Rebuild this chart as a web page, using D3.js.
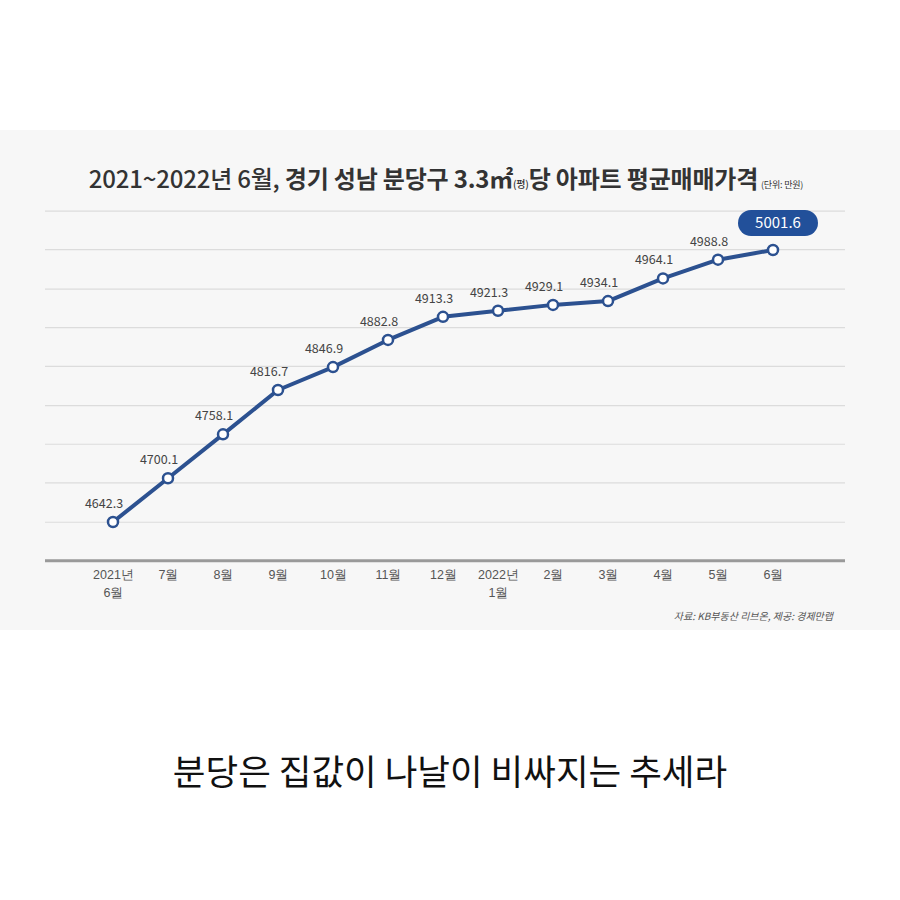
<!DOCTYPE html>
<html>
<head>
<meta charset="utf-8">
<script src="https://cdn.jsdelivr.net/npm/d3@7"></script>
<style>
  body { margin: 0; background: #fff; }
  svg { display: block; font-family: "Noto Sans CJK KR", "Noto Sans", sans-serif; }
</style>
</head>
<body>
<svg id="chart" width="900" height="900"></svg>
<script>
// months (two-line labels) and average price per 3.3m2 (만원)
var months = ["2021년|6월", "7월", "8월", "9월", "10월", "11월", "12월", "2022년|1월", "2월", "3월", "4월", "5월", "6월"];
var prices = [4642.3, 4700.1, 4758.1, 4816.7, 4846.9, 4882.8, 4913.3, 4921.3, 4929.1, 4934.1, 4964.1, 4988.8, 5001.6];
var gridValues = [4642, 4694, 4745, 4796, 4848, 4899, 4950, 5002, 5053];
var baseValue = 4591;

var dimensions = {
  width: 900,
  height: 900,
  margin: { top: 212, right: 55, bottom: 340, left: 45 },
};

var svg = d3.select("#chart");

// light panel behind the chart
svg.append("rect")
  .attr("x", 0).attr("y", 130)
  .attr("width", 900).attr("height", 500)
  .attr("fill", "#f7f7f7");

var data = months.map((m, i) => ({ month: m, price: prices[i] }));

var xScale = d3.scalePoint()
  .domain(months)
  .range([113, 773]);

var yScale = d3.scaleLinear()
  .domain([4642.3, 5001.6])
  .range([522, 250]);

// gridlines
svg.append("g")
  .selectAll("line")
  .data(gridValues)
  .enter()
  .append("line")
  .attr("x1", dimensions.margin.left)
  .attr("x2", dimensions.width - dimensions.margin.right)
  .attr("y1", (d) => yScale(d))
  .attr("y2", (d) => yScale(d))
  .attr("stroke", "#dcdcdc")
  .attr("stroke-width", 1.2);

// x axis
var xAxisgen = d3.axisBottom(xScale).tickSize(0).tickPadding(0).tickFormat("");
var xAxis = svg.append("g")
  .attr("transform", `translate(0,${yScale(baseValue)})`)
  .call(xAxisgen);
xAxis.select(".domain").remove();
xAxis.append("line")
  .attr("x1", dimensions.margin.left)
  .attr("x2", dimensions.width - dimensions.margin.right)
  .attr("stroke", "#9a9a9a")
  .attr("stroke-width", 3);

xAxis.selectAll(".tick").each(function (d) {
  var t = d3.select(this).select("text")
    .attr("fill", "#555")
    .attr("font-size", 12.5)
    .attr("text-anchor", "middle")
    .attr("dy", null)
    .attr("y", null);
  d.split("|").forEach(function (part, k) {
    t.append("tspan")
      .attr("x", 0)
      .attr("y", 18 + k * 18)
      .text(part);
  });
});

// line
var lineGen = d3.line()
  .x((d) => xScale(d.month))
  .y((d) => yScale(d.price));

svg.append("path")
  .datum(data)
  .attr("d", lineGen)
  .attr("fill", "none")
  .attr("stroke", "#2c5190")
  .attr("stroke-width", 4)
  .attr("stroke-linejoin", "round");

// value labels (all but last)
svg.append("g")
  .selectAll("text")
  .data(data.slice(0, -1))
  .enter()
  .append("text")
  .attr("x", (d) => xScale(d.month) - 9)
  .attr("y", (d) => yScale(d.price) - 14)
  .attr("text-anchor", "middle")
  .attr("font-size", 12.5)
  .attr("fill", "#444")
  .text((d) => d.price.toFixed(1));

// markers
svg.append("g")
  .selectAll("circle")
  .data(data)
  .enter()
  .append("circle")
  .attr("cx", (d) => xScale(d.month))
  .attr("cy", (d) => yScale(d.price))
  .attr("r", 5)
  .attr("fill", "#fff")
  .attr("stroke", "#2c5190")
  .attr("stroke-width", 2.5);

// highlighted last value
var last = data[data.length - 1];
var pill = svg.append("g")
  .attr("transform", `translate(${xScale(last.month) + 5},${yScale(last.price) - 27})`);
pill.append("rect")
  .attr("x", -40).attr("y", -13)
  .attr("width", 80).attr("height", 26)
  .attr("rx", 13)
  .attr("fill", "#22509a");
pill.append("text")
  .attr("text-anchor", "middle")
  .attr("dy", "0.36em")
  .attr("font-size", 15)
  .attr("fill", "#fff")
  .text(last.price.toFixed(1));

// title
var title = svg.append("text")
  .attr("x", 446)
  .attr("y", 188)
  .attr("text-anchor", "middle")
  .attr("font-size", 24)
  .attr("fill", "#333")
  .attr("letter-spacing", -0.2);
title.append("tspan").attr("font-weight", 500).text("2021~2022년 6월, ");
title.append("tspan").attr("font-weight", 700).text("경기 성남 분당구 3.3㎡");
title.append("tspan").attr("font-size", 10).attr("font-weight", 500).text("(평)");
title.append("tspan").attr("font-weight", 700).text("당 아파트 평균매매가격");
title.append("tspan").attr("font-size", 9).attr("font-weight", 400).attr("dx", 3).text("(단위: 만원)");

// source
svg.append("text")
  .attr("x", 833)
  .attr("y", 620)
  .attr("text-anchor", "end")
  .attr("font-size", 10)
  .attr("font-style", "italic")
  .attr("fill", "#555")
  .text("자료: KB부동산 리브온, 제공: 경제만랩");

// caption
svg.append("text")
  .attr("x", 450)
  .attr("y", 785)
  .attr("text-anchor", "middle")
  .attr("font-size", 35.5)
  .attr("fill", "#111")
  .text("분당은 집값이 나날이 비싸지는 추세라");
</script>
</body>
</html>
